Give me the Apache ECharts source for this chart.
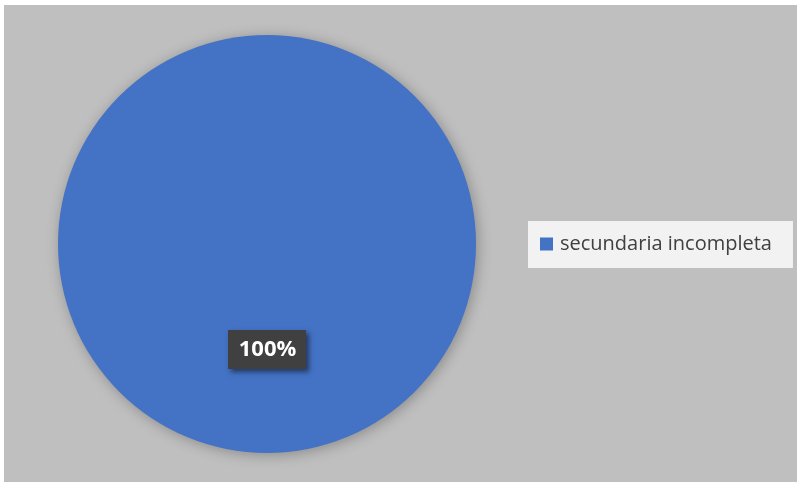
<!DOCTYPE html>
<html>
<head>
<meta charset="utf-8">
<style>
  html, body { margin: 0; padding: 0; background: #ffffff; }
  #chart { width: 797px; height: 482px; }
</style>
<script src="https://cdn.jsdelivr.net/npm/echarts@6/dist/echarts.min.js"></script>
</head>
<body>
<div id="chart"></div>
<script>
// Education level shares
const categories = ['secundaria incompleta'];
const shares = [100];
const sliceColors = ['#4472c4'];

const chart = echarts.init(document.getElementById('chart'), null, { renderer: 'canvas' });

const pieData = categories.map((name, i) => ({
  name: name,
  value: shares[i],
  itemStyle: { color: sliceColors[i] }
}));

chart.setOption({
  animation: false,
  graphic: [{
    type: 'rect',
    left: 4, top: 5,
    shape: { width: 793, height: 477 },
    style: { fill: '#bfbfbf' },
    z: -10
  }],
  legend: {
    orient: 'vertical',
    left: 528, top: 221,
    padding: [13, 21, 14, 12],
    backgroundColor: '#f2f2f2',
    icon: 'rect',
    itemWidth: 13, itemHeight: 13,
    itemGap: 6,
    textStyle: {
      color: '#404040', fontSize: 20, fontFamily: 'Open Sans',
      padding: [0, 0, 0, 2]
    },
    data: categories
  },
  series: [{
    type: 'pie',
    center: [267, 244],
    radius: [0, 209],
    startAngle: 90,
    silent: true,
    itemStyle: {
      shadowBlur: 14,
      shadowColor: 'rgba(0,0,0,0.28)',
      shadowOffsetX: 2,
      shadowOffsetY: 2
    },
    label: {
      show: true,
      position: 'inside',
      formatter: p => p.value + '%',
      color: '#ffffff',
      fontSize: 22,
      fontWeight: 'bold',
      fontFamily: 'Open Sans',
      backgroundColor: '#404040',
      padding: [9, 8, 8, 9],
      width: 61,
      align: 'center',
      offset: [0, -2],
      shadowBlur: 5,
      shadowColor: 'rgba(0,0,0,0.5)',
      shadowOffsetX: 3,
      shadowOffsetY: 3
    },
    labelLine: { show: false },
    data: pieData
  }]
});
</script>
</body>
</html>
